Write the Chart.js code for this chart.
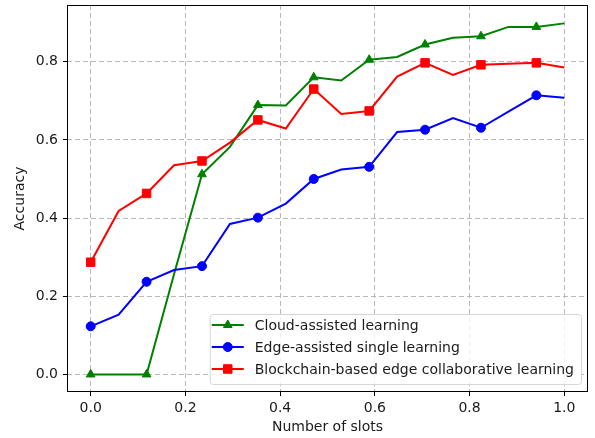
<!DOCTYPE html>
<html>
<head>
<meta charset="utf-8">
<script src="https://cdn.jsdelivr.net/npm/chart.js@4.4.1/dist/chart.umd.min.js"></script>
<style>
  html, body { margin: 0; padding: 0; background: #fff; }
</style>
</head>
<body>
<canvas id="accuracyChart" width="595" height="438"></canvas>
<script>
// x positions (number of slots, normalised)
const slots = [0, 0.059, 0.118, 0.176, 0.235, 0.294, 0.353, 0.412, 0.471, 0.529, 0.588, 0.647, 0.706, 0.765, 0.824, 0.882, 0.941, 1.0];

const cloudAssisted = [0, 0, 0, 0.256, 0.512, 0.582, 0.689, 0.688, 0.760, 0.752, 0.805, 0.812, 0.844, 0.861, 0.865, 0.889, 0.889, 0.898];
const edgeSingle = [0.123, 0.153, 0.237, 0.267, 0.277, 0.385, 0.401, 0.437, 0.500, 0.524, 0.531, 0.620, 0.626, 0.656, 0.631, 0.672, 0.714, 0.708];
const blockchainEdge = [0.287, 0.418, 0.463, 0.535, 0.546, 0.593, 0.651, 0.629, 0.730, 0.666, 0.674, 0.762, 0.797, 0.766, 0.792, 0.795, 0.797, 0.785];

const seriesLabels = ["Cloud-assisted learning", "Edge-assisted single learning", "Blockchain-based edge collaborative learning"];

const xTicks = [0, 0.2, 0.4, 0.6, 0.8, 1.0];
const yTicks = [0, 0.2, 0.4, 0.6, 0.8];

const FONT = "'DejaVu Sans', sans-serif";
const TEXT = "#1a1a1a";

const toPoints = (ys) => ys.map((y, i) => ({ x: slots[i], y }));
const everyOther = (r) => (ctx) => (ctx.dataIndex % 2 === 0 ? r : 0); // markevery=2

function makeSet(label, data, color, style, radius, order) {
  return {
    label,
    data: toPoints(data),
    borderColor: color,
    backgroundColor: color,
    borderWidth: 2,
    pointStyle: style,
    pointRadius: everyOther(radius),
    pointHoverRadius: everyOther(radius),
    pointBackgroundColor: color,
    pointBorderColor: color,
    pointBorderWidth: 1,
    tension: 0,
    order,
    legendRadius: radius,
  };
}

// matplotlib-like frame round the axes
const frameBox = {
  id: "frameBox",
  afterDatasetsDraw(chart) {
    const { ctx, chartArea: a } = chart;
    ctx.save();
    ctx.strokeStyle = "#000";
    ctx.lineWidth = 1;
    ctx.setLineDash([]);
    ctx.strokeRect(Math.round(a.left) + 0.5, Math.round(a.top) + 0.5, Math.round(a.right - a.left) - 1, Math.round(a.bottom - a.top) - 1);
    ctx.restore();
  },
};

// legend in the lower right corner, inside the axes
const legendBox = {
  id: "legendBox",
  afterDraw(chart) {
    const { ctx, chartArea } = chart;
    const sets = chart.data.datasets;
    ctx.save();
    ctx.font = "14px " + FONT;
    const textW = Math.max(...sets.map((d) => ctx.measureText(d.label).width));
    const rowH = 22;
    const w = 45 + textW + 7;
    const h = sets.length * rowH + 4;
    const right = chartArea.right - 7;
    const bottom = chartArea.bottom - 8;
    const left = right - w;
    const top = bottom - h;

    ctx.beginPath();
    ctx.roundRect(left + 0.5, top + 0.5, w, h, 3);
    ctx.fillStyle = "rgba(255,255,255,0.8)";
    ctx.fill();
    ctx.strokeStyle = "#d6d6d6";
    ctx.lineWidth = 1;
    ctx.stroke();

    sets.forEach((d, i) => {
      const cy = top + 11 + i * rowH;
      ctx.strokeStyle = d.borderColor;
      ctx.fillStyle = d.borderColor;
      ctx.lineWidth = 2;
      ctx.beginPath();
      ctx.moveTo(left + 2, cy);
      ctx.lineTo(left + 34, cy);
      ctx.stroke();
      ctx.lineWidth = 1;
      Chart.helpers.drawPoint(ctx, { pointStyle: d.pointStyle, radius: d.legendRadius, rotation: 0, borderWidth: 1 }, left + 18, cy);
      ctx.fillStyle = TEXT;
      ctx.textBaseline = "middle";
      ctx.textAlign = "left";
      ctx.fillText(d.label, left + 45, cy + 1);
    });
    ctx.restore();
  },
};

const gridStyle = {
  color: "#b9b9b9",
  lineWidth: 1,
  borderDash: [5, 3],
  tickColor: "#000",
  tickLength: 4,
  tickWidth: 1,
  tickBorderDash: [],
};

const ctx = document.getElementById("accuracyChart").getContext("2d");

new Chart(ctx, {
  type: "line",
  data: {
    datasets: [
      makeSet(seriesLabels[0], cloudAssisted, "#008000", "triangle", 5, 2),
      makeSet(seriesLabels[1], edgeSingle, "#0000ff", "circle", 4.5, 1),
      makeSet(seriesLabels[2], blockchainEdge, "#ff0000", "rect", 6, 0),
    ],
  },
  options: {
    responsive: false,
    animation: false,
    devicePixelRatio: 1,
    layout: { autoPadding: false, padding: { top: 5, right: 7, bottom: 0, left: 0 } },
    plugins: {
      legend: { display: false },
      tooltip: { enabled: false },
    },
    scales: {
      x: {
        type: "linear",
        min: -0.05,
        max: 1.05,
        afterBuildTicks: (scale) => {
          scale.ticks = xTicks.map((v) => ({ value: v }));
        },
        afterFit: (scale) => {
          scale.height = 46;
          scale.paddingLeft = 0;
          scale.paddingRight = 0;
        },
        ticks: {
          callback: (v) => v.toFixed(1),
          font: { family: FONT, size: 14 },
          color: TEXT,
          padding: 4,
          maxRotation: 0,
        },
        grid: gridStyle,
        border: { display: false, dash: [5, 3] },
        title: {
          display: true,
          text: "Number of slots",
          font: { family: FONT, size: 14 },
          color: TEXT,
          padding: { top: 0, bottom: 2 },
        },
      },
      y: {
        type: "linear",
        min: -0.045,
        max: 0.945,
        afterBuildTicks: (scale) => {
          scale.ticks = yTicks.map((v) => ({ value: v }));
        },
        afterFit: (scale) => {
          scale.width = 67;
          scale.paddingTop = 0;
          scale.paddingBottom = 0;
        },
        ticks: {
          callback: (v) => v.toFixed(1),
          font: { family: FONT, size: 14 },
          color: TEXT,
          padding: 5,
        },
        grid: gridStyle,
        border: { display: false, dash: [5, 3] },
        title: {
          display: true,
          text: "Accuracy",
          font: { family: FONT, size: 14 },
          color: TEXT,
          padding: { top: 12, bottom: 0 },
        },
      },
    },
  },
  plugins: [frameBox, legendBox],
});
</script>
</body>
</html>
